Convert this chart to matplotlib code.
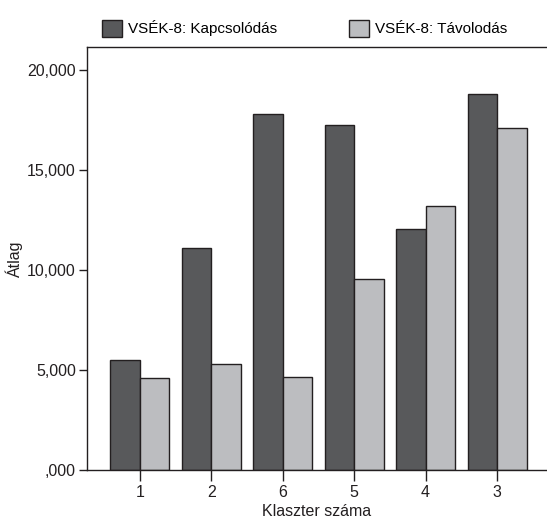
import matplotlib
matplotlib.use("Agg")
import matplotlib.pyplot as plt
import numpy as np

# Cluster order as shown on the x axis
clusters = ["1", "2", "6", "5", "4", "3"]
kapcsolodas = [5500, 11100, 17800, 17250, 12070, 18780]
tavolodas = [4600, 5280, 4650, 9570, 13180, 17080]
yticks = [0, 5000, 10000, 15000, 20000]
ytick_labels = [",000", "5,000", "10,000", "15,000", "20,000"]

plt.rcParams['font.family'] = ['Liberation Sans', 'DejaVu Sans']

fig = plt.figure(figsize=(5.47, 5.18), dpi=100)
ax = fig.add_axes([87 / 547, 1 - 470 / 518, 460 / 547, 423 / 518])

x = np.arange(len(clusters))
w = 0.413
ax.bar(x - w / 2, kapcsolodas, w, color="#58595b", edgecolor="#231f20",
       linewidth=1.0, label="VSÉK-8: Kapcsolódás")
ax.bar(x + w / 2, tavolodas, w, color="#bcbdc0", edgecolor="#231f20",
       linewidth=1.0, label="VSÉK-8: Távolodás")

ax.set_xlim(-0.742, 5.70)
ax.set_ylim(0, 21150)
ax.set_xticks(x)
ax.set_xticklabels(clusters)
ax.set_yticks(yticks)
ax.set_yticklabels(ytick_labels)
ax.tick_params(axis="both", labelsize=11.5, colors="#231f20", width=1.0)
ax.tick_params(axis="x", length=8, pad=3)
ax.tick_params(axis="y", length=6, pad=2)
for s in ["left", "bottom", "top"]:
    ax.spines[s].set_color("#231f20")
    ax.spines[s].set_linewidth(1.0)
ax.spines["right"].set_visible(False)

ax.set_xlabel("Klaszter száma", fontsize=11.5, color="#231f20", labelpad=3)
ax.set_ylabel("Átlag", fontsize=11.5, color="#231f20", labelpad=3)

ax.legend(loc="lower left", bbox_to_anchor=(0.02, 1.01), ncol=2, frameon=False,
          fontsize=11, handlelength=1.3, handleheight=1.3, handletextpad=0.4,
          columnspacing=4.7, borderaxespad=0)

fig.savefig("out.png", dpi=100)
